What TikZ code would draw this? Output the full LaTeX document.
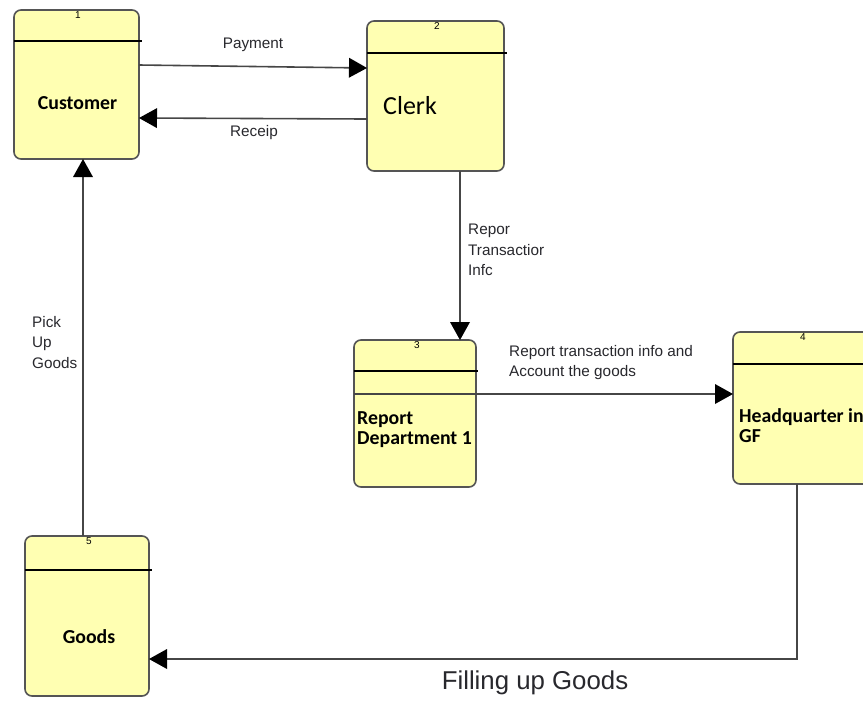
\documentclass[tikz,border=0pt]{standalone}
\usepackage{fontspec}
\setmainfont{Liberation Sans}
\newfontfamily\boxfont{Carlito}
\usetikzlibrary{arrows.meta,calc}
\definecolor{procfill}{RGB}{255,255,178}
\definecolor{procedge}{RGB}{85,85,85}
\definecolor{flowline}{RGB}{70,70,70}
\definecolor{labeltext}{RGB}{40,40,45}
\tikzset{
  procbox/.style={draw=procedge, fill=procfill, line width=1.6pt, rounded corners=7pt,
    outer sep=0pt, inner sep=0pt},
  divider/.style={draw=black, line width=1.2pt},
  procnum/.style={font=\fontsize{10}{10}\selectfont, inner sep=0pt, anchor=north},
  procname/.style={font=\boxfont\bfseries\fontsize{19.8}{20}\selectfont, inner sep=0pt, align=left},
  flow/.style={draw=flowline, line width=1.6pt,
    -{Triangle[length=18pt,width=20pt,line width=0pt,color=black,fill=black]}},
  flowlabel/.style={font=\fontsize{15.3}{20.5}\selectfont, text=labeltext, inner sep=0pt, align=left},
}
\begin{document}
\begin{tikzpicture}[x=1pt,y=-1pt]
\useasboundingbox (0,0) rectangle (863,716);
\clip (0,0) rectangle (863,716);
\fill[white] (0,0) rectangle (863,716);

% process boxes
\node[procbox, minimum width=125, minimum height=149] (cust)  at (76.5,84.5) {};
\node[procbox, minimum width=137, minimum height=150] (clerk) at (435.5,96) {};
\node[procbox, minimum width=122, minimum height=147] (rep)   at (415,413.5) {};
\node[procbox, minimum width=140, minimum height=152] (hq)    at (803,408) {};
\node[procbox, minimum width=124, minimum height=160] (goods) at (87,616) {};

% header dividers
\draw[divider] ($(cust.north west)+(0,31)$)  -- ($(cust.north east)+(3,31)$);
\draw[divider] ($(clerk.north west)+(0,32)$) -- ($(clerk.north east)+(3,32)$);
\draw[divider] ($(rep.north west)+(0,31)$)   -- ($(rep.north east)+(2,31)$);
\draw[divider] ($(hq.north west)+(0,32)$)    -- ($(hq.north east)+(3,32)$);
\draw[divider] ($(goods.north west)+(0,34)$) -- ($(goods.north east)+(3,34)$);

% process numbers
\node[procnum] (n1) at ($(cust.north)+(1.5,1)$)  {1};
\node[procnum] (n2) at ($(clerk.north)+(1.5,1)$) {2};
\node[procnum] (n3) at ($(rep.north)+(2,1)$)     {3};
\node[procnum] (n4) at ($(hq.north)+(0,1)$)      {4};
\node[procnum] (n5) at ($(goods.north)+(2,1)$)   {5};

% process names
\node[procname] (custname) at (77.5,103) {Customer};
\node[procname, anchor=west, font=\boxfont\fontsize{26}{26}\selectfont] (clerkname) at (383,106) {Clerk};
\node[procname, anchor=west] (repname) at (357,430) {Report\\Department 1};
\node[procname, anchor=west] (hqname) at (739,426) {Headquarter in\\GF};
\node[procname] (goodsname) at (89,637) {Goods};

% data flows
\draw[flow] ($(cust.north east)+(0,55)$) -- ($(clerk.north west)+(0,47)$);
\draw[flow] ($(clerk.north west)+(0,98)$) -- ($(cust.north east)+(0,108)$);
\draw[flow] ($(clerk.south west)+(93,0)$) -- ($(rep.north west)+(106,0)$);
\draw[flow] ($(rep.north west)+(0,54)$) -- ($(hq.north west)+(0,62)$);
\coordinate (hqturn) at (797,659);
\draw[flow] (hqturn |- hq.south) -- (hqturn) -- (hqturn -| goods.east);
\draw[flow] ($(goods.north west)+(58,0)$) -- ($(cust.south west)+(69,0)$);

% flow labels
\node[flowlabel] (lpay) at (253,45) {Payment};
\node[flowlabel] (lrec) at (254,133) {Receip};
\node[flowlabel, anchor=north west] (lrti) at (468,224) {Repor\\Transactior\\Infc};
\node[flowlabel, anchor=north west] (lacc) at (509,345) {Report transaction info and\\Account the goods};
\node[flowlabel, anchor=north west] (lpick) at (32,316) {Pick\\Up\\Goods};
\node[flowlabel, font=\fontsize{25.8}{26}\selectfont] (lfill) at (535,683) {Filling up Goods};
\end{tikzpicture}
\end{document}
